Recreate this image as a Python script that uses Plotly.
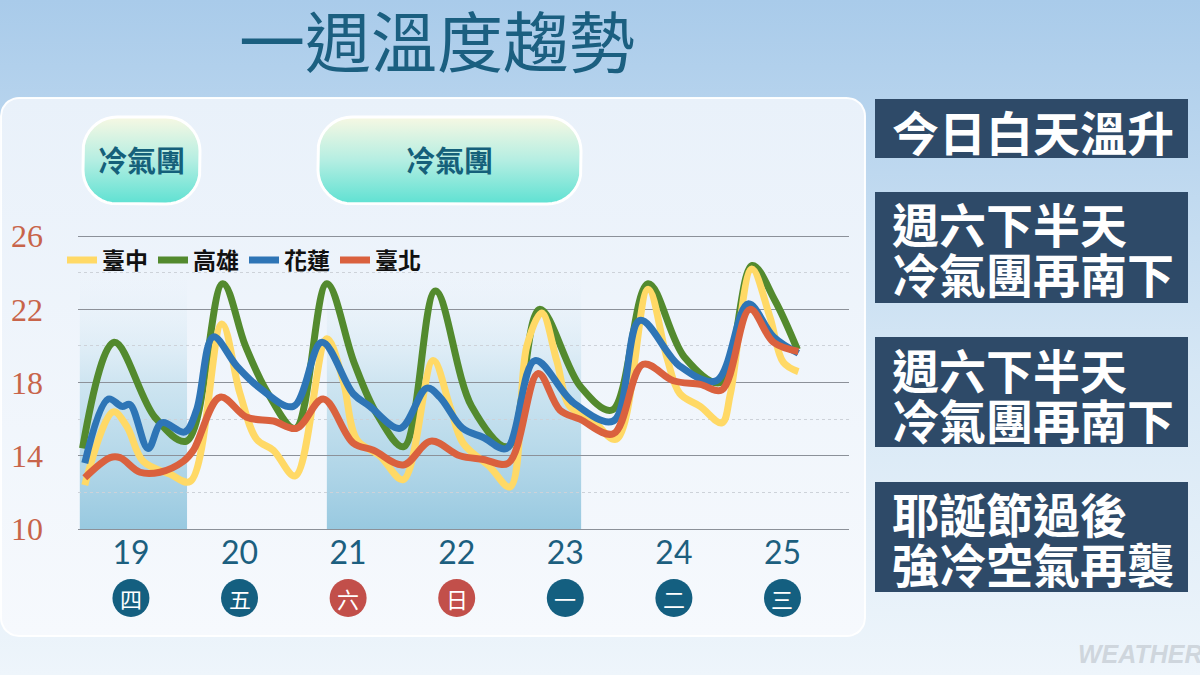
import math
import plotly.graph_objects as go

W, H = 1200, 675

# ---------------- data (x = hours since 19th 00:00, y = °C) ----------------
taichung_h = [1.5, 7.8, 10.8, 14.4, 20.3, 24.8, 31.8, 35.8, 39.5, 43.2, 48.0, 55.0, 58.6, 61.6, 66.7, 71.9,
              78.5, 82.2, 85.1, 91.0, 95.5, 99.2, 102.5, 105.8, 108.7, 113.1, 119.0, 126.0, 130.1, 133.0,
              137.5, 142.3, 144.2, 148.9, 152.9, 155.9, 159.2]
taichung_t = [12.4, 16.4, 15.6, 13.7, 13.0, 12.6, 21.2, 17.4, 14.9, 14.3, 12.9, 20.4, 18.1, 14.9, 14.0, 12.7,
              19.2, 16.7, 14.7, 13.4, 12.3, 20.0, 21.8, 19.2, 16.7, 16.1, 14.9, 23.1, 19.4, 17.4,
              16.7, 15.8, 17.4, 24.2, 21.6, 19.1, 18.6]

kaohsiung_h = [1, 8, 17, 24, 32, 37, 42, 48, 55, 61, 66, 72, 79, 87, 95, 102, 111, 118, 126, 134, 142, 149, 154, 159]
kaohsiung_t = [14.4, 20.2, 16.1, 14.8, 23.4, 20.0, 17.4, 15.5, 23.4, 19.1, 16.3, 14.5, 23.0, 16.7, 14.5, 22.0,
               17.8, 16.5, 23.4, 19.4, 18.0, 24.4, 22.5, 19.8]

hualien_h = [1.5, 6.7, 9.7, 11.5, 15.5, 18.5, 23.6, 26.2, 29.9, 35.1, 40.2, 47.6, 53.9, 60.8, 64.5, 71.2, 77.1,
             80.0, 85.0, 89.6, 94.7, 101.0, 109.5, 118.3, 124.2, 133.0, 141.1, 148.1, 153.7, 159.2]
hualien_t = [13.6, 17.1, 16.7, 16.8, 14.4, 15.8, 15.3, 16.5, 20.5, 18.9, 17.7, 16.7, 20.2, 17.4, 16.7, 15.5, 17.7,
             17.2, 15.5, 15.0, 14.4, 19.2, 16.9, 15.9, 21.4, 18.9, 18.1, 22.3, 20.5, 19.6]

taipei_h = [1.5, 7.1, 9.3, 13.7, 18.1, 23.3, 25.5, 31.4, 37.3, 43.2, 48.3, 54.2, 60.8, 65.3, 71.9, 78.0, 84.4,
            89.6, 95.1, 101.7, 106.5, 110.9, 118.3, 124.9, 131.6, 137.5, 142.3, 148.5, 153.7, 159.2]
taipei_t = [12.8, 13.9, 13.9, 13.1, 13.1, 13.7, 14.3, 17.2, 16.1, 15.9, 15.5, 17.1, 14.7, 14.3, 13.5, 14.8, 14.0,
            13.8, 13.6, 18.5, 16.5, 16.0, 15.2, 19.0, 18.1, 17.9, 17.6, 22.0, 20.2, 19.7]

# cold-air-mass periods (hours)
cold_start = [0.4, 55.0]
cold_end = [24.1, 111.2]
cold_top = 24.3

day_labels = ["19", "20", "21", "22", "23", "24", "25"]
day_ticks_h = [11.7, 35.7, 59.7, 83.7, 107.7, 131.7, 155.7]
weekday = ["四", "五", "六", "日", "一", "二", "三"]
weekend = [False, False, True, True, False, False, False]

y_ticks = [10, 14, 18, 22, 26]

# ---------------- layout geometry (pixels) ----------------
PL, PR, PT, PB = 78, 849, 227, 529      # data plot area
XR = [0, 170.4]
YR = [10, 26.5]

fig = go.Figure()


def up(y):
    return H - y


def rrect(x0, y0, x1, y1, r, n=10):
    pts = []
    corners = [(x1 - r, y0 + r, -90, 0), (x1 - r, y1 - r, 0, 90),
               (x0 + r, y1 - r, 90, 180), (x0 + r, y0 + r, 180, 270)]
    for cx, cy, a0, a1 in corners:
        for i in range(n + 1):
            a = math.radians(a0 + (a1 - a0) * i / n)
            pts.append((cx + r * math.cos(a), cy + r * math.sin(a)))
    pts.append(pts[0])
    return [p[0] for p in pts], [up(p[1]) for p in pts]


def deco(xs, ys, scale, y_top, y_bot, line_color=None, line_width=0):
    fig.add_trace(go.Scatter(
        x=xs, y=ys, mode="lines", fill="toself",
        fillgradient=dict(type="vertical", colorscale=scale, start=up(y_bot), stop=up(y_top)),
        line=dict(color=line_color or "rgba(0,0,0,0)", width=line_width),
        hoverinfo="skip", showlegend=False, xaxis="x", yaxis="y"))


# page background
deco([0, W, W, 0, 0], [0, 0, H, H, 0],
     [[0, "#eef5fb"], [0.45, "#d6e7f5"], [1, "#a9cbea"]], 0, H)
# main white panel
px, py = rrect(1, 98, 865, 636, 18)
deco(px, py, [[0, "#f6f9fd"], [1, "#e9f1fa"]], 98, 636, "rgba(255,255,255,0.95)", 2)
# cold-air-mass pills
pill_scale = [[0, "#5ee1d2"], [0.5, "#b4eee2"], [1, "#f7f8e3"]]
for (a, b) in [(83, 200), (318, 581)]:
    qx, qy = rrect(a, 117, b, 204, 34)
    deco(qx, qy, pill_scale, 117, 204, "#ffffff", 3)

# cold period shading (data axes x2/y2)
for s, e in zip(cold_start, cold_end):
    fig.add_trace(go.Scatter(
        x=[s, e, e, s, s], y=[YR[0], YR[0], cold_top, cold_top, YR[0]],
        mode="lines", fill="toself", line=dict(width=0, color="rgba(0,0,0,0)"),
        fillgradient=dict(type="vertical",
                          colorscale=[[0, "rgba(152,201,224,1)"], [0.55, "rgba(196,224,238,0.8)"],
                                      [1, "rgba(235,243,250,0)"]],
                          start=YR[0], stop=cold_top),
        hoverinfo="skip", showlegend=False, xaxis="x2", yaxis="y2"))

# temperature lines (x3/y3)
series = [("高雄", kaohsiung_h, kaohsiung_t, "#538a2e", 2),
          ("臺中", taichung_h, taichung_t, "#ffd966", 1),
          ("花蓮", hualien_h, hualien_t, "#2e75b6", 3),
          ("臺北", taipei_h, taipei_t, "#da613e", 4)]
for name, xs, ys, col, rank in series:
    fig.add_trace(go.Scatter(
        x=xs, y=ys, name=name, mode="lines", legendrank=rank,
        line=dict(color=col, width=7, shape="spline", smoothing=1.0),
        xaxis="x3", yaxis="y3", cliponaxis=False))

# weekday circles below day labels (positioned on data x axis)
circ_y = (H - 598) / H
rx = 18.5 * (XR[1] / (PR - PL))
for h, wd, we in zip(day_ticks_h, weekday, weekend):
    fig.add_shape(type="circle", xref="x3", yref="paper",
                  x0=h - rx, x1=h + rx, y0=circ_y - 19 / H, y1=circ_y + 19 / H,
                  fillcolor="#c24f4a" if we else "#145f80", line=dict(width=0), layer="above")
    fig.add_annotation(x=h, y=circ_y, xref="x3", yref="paper", text=wd, showarrow=False,
                       xanchor="center", yanchor="middle",
                       font=dict(family="Noto Sans CJK TC", size=22, color="white"))

# right-side navy boxes
boxes = [(99, 158), (192, 303), (337, 447), (482, 592)]
for y0, y1 in boxes:
    fig.add_shape(type="rect", xref="x", yref="y", x0=875, x1=1188, y0=up(y1), y1=up(y0),
                  fillcolor="#2e4a68", line=dict(width=0), layer="above")
box_lines = [("今日白天溫升", 130), ("週六下半天", 222), ("冷氣團再南下", 272),
             ("週六下半天", 368), ("冷氣團再南下", 418), ("耶誕節過後", 512), ("強冷空氣再襲", 562)]
for txt, yc in box_lines:
    fig.add_annotation(x=890, y=up(yc), xref="x", yref="y", text=txt, showarrow=False,
                       xanchor="left", yanchor="middle",
                       font=dict(family="Noto Sans CJK TC", size=47, color="white", weight="bold"))

# title
fig.add_annotation(x=437, y=up(38), xref="x", yref="y", text="一週溫度趨勢", showarrow=False,
                   xanchor="center", yanchor="middle",
                   font=dict(family="Noto Sans CJK TC", size=66, color="#1b5f80"))
# pill labels
for xc in [141.5, 449.5]:
    fig.add_annotation(x=xc, y=up(159), xref="x", yref="y", text="冷氣團", showarrow=False,
                       xanchor="center", yanchor="middle",
                       font=dict(family="Noto Sans CJK TC", size=29, color="#15607a", weight="bold"))
# watermark
fig.add_annotation(x=1076, y=up(654), xref="x", yref="y", text="WEATHER", showarrow=False,
                   xanchor="left", yanchor="middle",
                   font=dict(family="Liberation Sans", size=25, color="#cfd6dd",
                             weight="bold", style="italic"))

dom_x = [PL / W, PR / W]
dom_y = [(H - PB) / H, (H - PT) / H]

fig.update_layout(
    width=W, height=H, margin=dict(l=0, r=0, t=0, b=0, pad=0, autoexpand=False),
    paper_bgcolor="#dcebf7", plot_bgcolor="rgba(0,0,0,0)",
    xaxis=dict(domain=[0, 1], range=[0, W], visible=False, fixedrange=True, automargin=False),
    yaxis=dict(domain=[0, 1], range=[0, H], visible=False, fixedrange=True, automargin=False),
    xaxis2=dict(domain=dom_x, range=XR, visible=False, anchor="y2", automargin=False),
    yaxis2=dict(domain=dom_y, range=YR, visible=False, anchor="x2", automargin=False),
    xaxis3=dict(domain=dom_x, range=XR, anchor="y3", tickvals=day_ticks_h, ticktext=day_labels,
                showgrid=False, zeroline=False, showline=True, linecolor="#8c9199", linewidth=1.3,
                ticks="", ticklabelstandoff=-5, automargin=False,
                tickfont=dict(family="Lato", size=32, color="#1c5f7f")),
    yaxis3=dict(domain=dom_y, range=YR, anchor="x3", tickvals=y_ticks, showgrid=True,
                gridcolor="#8c9199", gridwidth=1.3, zeroline=False, ticks="", ticklabelstandoff=34,
                automargin=False,
                tickfont=dict(family="Liberation Serif", size=32, color="#c8644a"),
                minor=dict(dtick=2, tick0=10, showgrid=True, gridcolor="#cdd2d9", griddash="dot", gridwidth=1)),
    legend=dict(orientation="h", x=62 / W, xanchor="left", y=(H - 260) / H, yanchor="middle",
                bgcolor="rgba(0,0,0,0)", itemwidth=30, tracegroupgap=0,
                font=dict(family="Noto Sans CJK TC", size=23, color="#111111", weight="bold")),
    showlegend=True,
)

fig.write_html("out.html", config={"displayModeBar": False},
               post_script="document.body.style.margin='0';document.body.style.overflow='hidden';")
